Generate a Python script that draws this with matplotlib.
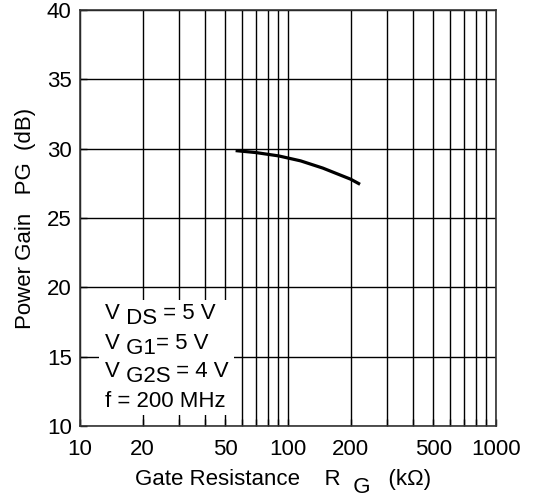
import matplotlib
matplotlib.use("Agg")
import matplotlib.pyplot as plt
from matplotlib.patches import Rectangle
from matplotlib.ticker import FixedLocator, FixedFormatter, NullLocator

plt.rcParams["font.family"] = ["Liberation Sans", "DejaVu Sans"]

# curve
rg_kohm = [56, 70, 90, 115, 147, 200, 222]
pg_db = [29.86, 29.72, 29.48, 29.12, 28.6, 27.8, 27.43]

x_grid = [m * d for d in (10, 100) for m in range(1, 10)] + [1000]
x_labels = ["10", "20", "50", "100", "200", "500", "1000"]
y_ticks = [10, 15, 20, 25, 30, 35, 40]

# conditions box: rows of (text, vertical offset in points)
cond_rows = [
    [("V", 0), (" DS", -3.6), (" = 5 V", 3.6)],
    [("V", 0), (" G1", -3.6), ("= 5 V", 3.6)],
    [("V", 0), (" G2S", -3.6), (" = 4 V", 3.6)],
    [("f = 200 MHz", 0)],
]
xlabel_parts = [("Gate Resistance    R", 0), ("  G", -6.0), ("   (k\u03a9)", 6.0)]

FS = 16


def chain_text(ax, x, y, parts, fontsize=FS, zorder=4):
    prev = ax.text(x, y, parts[0][0], transform=ax.transAxes, fontsize=fontsize,
                   va="baseline", ha="left", zorder=zorder, clip_on=False)
    for s, dy in parts[1:]:
        prev = ax.annotate(s, xy=(1, 0), xycoords=prev, xytext=(0, dy),
                           textcoords="offset points", va="bottom", ha="left",
                           fontsize=fontsize, zorder=zorder, annotation_clip=False)
    return prev


fig = plt.figure(figsize=(5.41, 4.98), dpi=100)
ax = fig.add_axes([80 / 541, 72 / 498, 416 / 541, 416 / 498])

ax.plot(rg_kohm, pg_db, color="black", linewidth=2.3, solid_capstyle="butt", zorder=3)

ax.set_xscale("log")
ax.set_xlim(10, 1000)
ax.set_ylim(10, 40)

ax.xaxis.set_major_locator(FixedLocator(x_grid))
ax.xaxis.set_major_formatter(FixedFormatter(
    [str(v) if str(v) in x_labels else "" for v in x_grid]))
ax.xaxis.set_minor_locator(NullLocator())
ax.set_yticks(y_ticks)
ax.set_yticklabels([str(v) for v in y_ticks])

ax.tick_params(axis="both", direction="in", length=5, width=1, labelsize=FS,
               color="black", labelcolor="black")
ax.tick_params(axis="x", pad=9)
ax.tick_params(axis="y", pad=6)
ax.grid(True, color="black", linewidth=1.0)
for sp in ax.spines.values():
    sp.set_color("#333333")
    sp.set_linewidth(1.2)

# white box behind the conditions
ax.add_patch(Rectangle((0.046, 0.026), 0.324, 0.277, transform=ax.transAxes,
                       facecolor="white", edgecolor="none", zorder=2))
row_y = [0.258, 0.186, 0.117, 0.0445]
for parts, y in zip(cond_rows, row_y):
    chain_text(ax, 0.060, y, parts)

chain_text(ax, 0.132, -0.142, xlabel_parts)

ax.set_ylabel("Power Gain   PG  (dB)", fontsize=FS, labelpad=8)

fig.savefig("out.png", dpi=100)
